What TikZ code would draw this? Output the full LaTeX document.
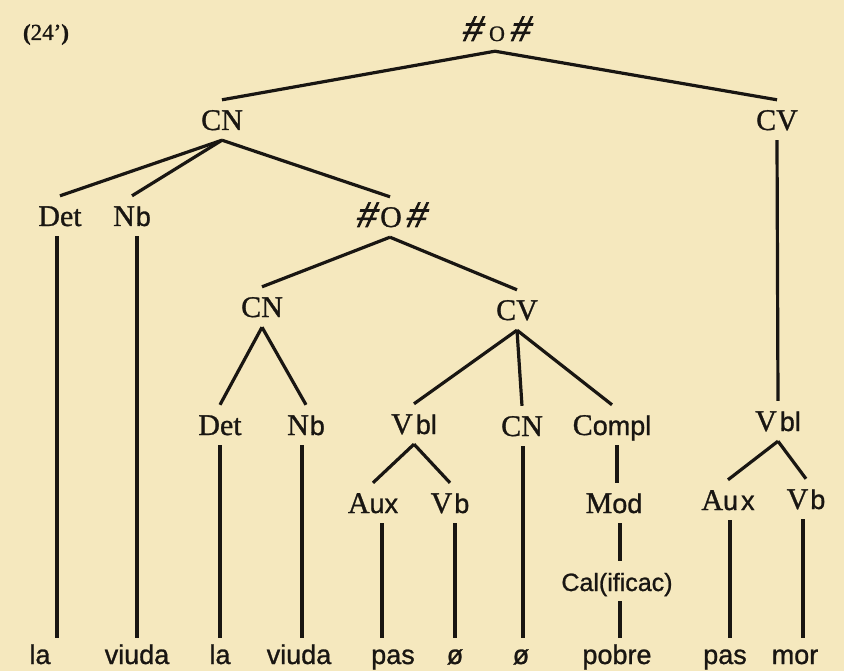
\documentclass[tikz,border=0pt]{standalone}
\usepackage{fontspec}
\setmainfont{Liberation Serif}[FakeBold=1]
\newfontfamily\sansf{Liberation Sans}[FakeBold=1]
\newfontfamily\hashf{Liberation Sans}[FakeSlant=0.25, FakeBold=2]
\definecolor{paper}{RGB}{245,232,190}
\definecolor{ink}{RGB}{25,22,18}
\newcommand\lsf[1]{{\sansf\fontsize{27}{30}\selectfont #1}}
\newcommand\bighash{{\hashf\fontsize{36}{36}\selectfont\#}}
\newcommand\stem[3]{\path ([xshift=#3pt]#1.south) coordinate (#1-top); \draw[edge] (#1-top) -- (#1-top |- #2.north);}
\begin{document}
\begin{tikzpicture}[x=1pt,y=-1pt,
  lab/.style={anchor=base, text=ink, inner xsep=1pt, inner ysep=10pt, text height=20pt, text depth=0pt, font=\fontsize{30}{33}\selectfont},
  word/.style={anchor=base, text=ink, inner xsep=1pt, inner ysep=10pt, text height=16pt, text depth=0pt, font=\sansf\fontsize{27}{30}\selectfont},
  edge/.style={draw=ink, line width=3.2pt}]
\fill[paper] (0,0) rectangle (844,671);
\useasboundingbox (0,0) rectangle (844,671);

\node[lab, font=\fontsize{23}{25}\selectfont] (num) at (46,40) {\textbf{(}24'\textbf{)}};
\node[lab] (s1) at (495,41) {\bighash\kern8pt{\fontsize{22}{22}\selectfont O}\kern4pt\bighash};
\node[lab] (cn1) at (222,130) {CN};
\node[lab] (cv1) at (777,130) {CV};
\node[lab] (det1) at (60,226) {Det};
\node[lab] (nb1) at (132,226) {N\kern1pt\lsf{b}};
\node[lab] (s2) at (390,227) {\bighash\kern5pt O\kern3pt\bighash};
\node[lab] (cn2) at (262,317) {CN};
\node[lab] (cv2) at (517,320) {CV};
\node[lab] (det2) at (220,435) {Det};
\node[lab] (nb2) at (306,435) {N\kern1pt\lsf{b}};
\node[lab] (vbl2) at (414,434) {V\kern3pt\lsf{bl}};
\node[lab] (cn3) at (522,436) {CN};
\node[lab] (compl) at (612,435) {C\lsf{ompl}};
\node[lab] (aux2) at (373,513) {A\lsf{ux}};
\node[lab] (vb2) at (450,513) {V\kern2pt\lsf{b}};
\node[lab] (mod) at (614,513) {M\lsf{od}};
\node[lab] (cal) at (617,591) {{\sansf\fontsize{25}{28}\selectfont Cal(ificac)}};
\node[lab] (vbl3) at (778,431) {V\kern3pt\lsf{bl}};
\node[lab] (aux3) at (728,510) {A\lsf{u\kern3pt x}};
\node[lab] (vb3) at (806,509) {V\kern2pt\lsf{b}};

\node[word] (la1) at (40,664) {la};
\node[word] (viuda1) at (137,664) {viuda};
\node[word] (la2) at (220,664) {la};
\node[word] (viuda2) at (299,664) {viuda};
\node[word] (pas1) at (393,664) {pas};
\node[word] (zero1) at (455,664) {ø};
\node[word] (zero2) at (521,664) {ø};
\node[word] (pobre) at (617,664) {pobre};
\node[word] (pas2) at (725,664) {pas};
\node[word] (mor) at (795,664) {mor};

\draw[edge] (s1.south) -- (cn1.north);
\draw[edge] (s1.south) -- (cv1.north);
\draw[edge] (cn1.south) -- (det1.north);
\draw[edge] (cn1.south) -- (nb1.north);
\draw[edge] (cn1.south) -- (s2.north);
\draw[edge] (s2.south) -- (cn2.north);
\draw[edge] (s2.south) -- (cv2.north);
\draw[edge] (cn2.south) -- (det2.north);
\draw[edge] (cn2.south) -- (nb2.north);
\draw[edge] (cv2.south) -- (vbl2.north);
\draw[edge] (cv2.south) -- (cn3.north);
\draw[edge] (cv2.south) -- (compl.north);
\draw[edge] (vbl2.south) -- (aux2.north);
\draw[edge] (vbl2.south) -- (vb2.north);
\draw[edge] (cv1.south) -- (vbl3.north);
\draw[edge] (vbl3.south) -- (aux3.north);
\draw[edge] (vbl3.south) -- (vb3.north);

\stem{det1}{la1}{-3}
\stem{nb1}{viuda1}{5}
\stem{det2}{la2}{0}
\stem{nb2}{viuda2}{-4}
\stem{aux2}{pas1}{9}
\stem{vb2}{zero1}{5}
\stem{cn3}{zero2}{1}
\stem{compl}{mod}{5}
\stem{mod}{cal}{6}
\stem{cal}{pobre}{3}
\stem{aux3}{pas2}{2}
\stem{vb3}{mor}{-3}
\end{tikzpicture}
\end{document}
